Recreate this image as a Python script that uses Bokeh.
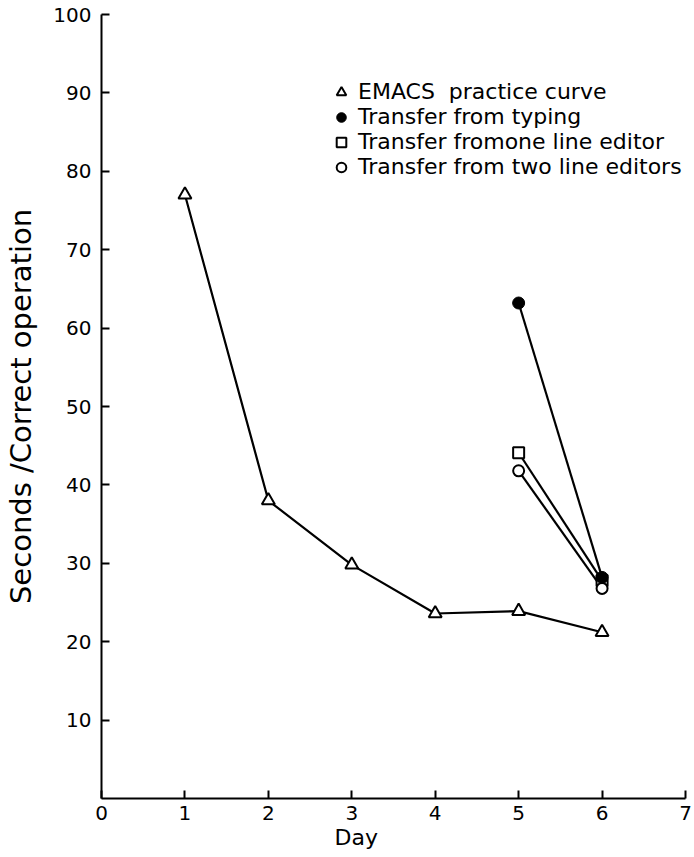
from bokeh.plotting import figure
from bokeh.models import Range1d, FixedTicker, Legend, LegendItem, Title
from bokeh.embed import file_html
from bokeh.resources import INLINE

# ---- data ----
days_emacs = [1, 2, 3, 4, 5, 6]
emacs = [77.0, 38.0, 29.8, 23.6, 23.9, 21.2]
days_transfer = [5, 6]
typing = [63.2, 28.2]
one_editor = [44.1, 27.8]
two_editors = [41.8, 26.8]

x_ticks = [0, 1, 2, 3, 4, 5, 6, 7]
y_ticks = [10, 20, 30, 40, 50, 60, 70, 80, 90, 100]

labels = [
    "EMACS  practice curve",
    "Transfer from typing",
    "Transfer fromone line editor",
    "Transfer from two line editors",
]
x_title = "Day"
y_title = "Seconds /Correct operation"

FONT = "DejaVu Sans"

p = figure(width=694, height=857, x_range=Range1d(0, 7), y_range=Range1d(0, 100),
           output_backend="svg", toolbar_location=None,
           min_border_left=101, min_border_right=9, min_border_top=14, min_border_bottom=59)
p.outline_line_color = None
p.xgrid.visible = False
p.ygrid.visible = False
p.background_fill_color = "white"
p.border_fill_color = "white"

for ax in (p.xaxis[0], p.yaxis[0]):
    ax.axis_line_width = 2
    ax.axis_line_color = "black"
    ax.major_tick_line_width = 2
    ax.major_tick_line_color = "black"
    ax.major_tick_in = 8
    ax.major_tick_out = 0
    ax.minor_tick_line_color = None
    ax.major_label_text_font = FONT
    ax.major_label_text_font_size = "20px"
    ax.major_label_text_color = "black"
    ax.axis_label_text_font = FONT
    ax.axis_label_text_font_style = "normal"
    ax.axis_label_text_color = "black"

p.xaxis.ticker = FixedTicker(ticks=x_ticks)
p.yaxis.ticker = FixedTicker(ticks=y_ticks)
p.xaxis.major_label_standoff = 7
p.yaxis.major_label_standoff = 10
p.yaxis.axis_label = y_title
p.yaxis.axis_label_text_font_size = "29px"
p.yaxis.axis_label_standoff = 12

# x-axis title, placed left of centre as in the reference
p.add_layout(Title(text=x_title, align="left", offset=233, standoff=0,
                   text_font=FONT, text_font_size="22px", text_font_style="normal",
                   text_color="black"), "below")

lw = 2.2
p.line(days_emacs, emacs, line_color="black", line_width=lw)
p.line(days_transfer, one_editor, line_color="black", line_width=lw)
p.line(days_transfer, two_editors, line_color="black", line_width=lw)
p.line(days_transfer, typing, line_color="black", line_width=lw)

r_tri = p.scatter(days_emacs, emacs, marker="triangle", size=13, fill_color="white",
                  line_color="black", line_width=2)
r_sq = p.scatter(days_transfer, one_editor, marker="square", size=11, fill_color="white",
                 line_color="black", line_width=2)
r_oc = p.scatter(days_transfer, two_editors, marker="circle", size=11, fill_color="white",
                 line_color="black", line_width=2)
r_fc = p.scatter(days_transfer, typing, marker="circle", size=12, fill_color="black",
                 line_color="black", line_width=1)

legend = Legend(items=[
    LegendItem(label=labels[0], renderers=[r_tri]),
    LegendItem(label=labels[1], renderers=[r_fc]),
    LegendItem(label=labels[2], renderers=[r_sq]),
    LegendItem(label=labels[3], renderers=[r_oc]),
], location=(228, 619))
legend.border_line_color = None
legend.background_fill_alpha = 0
legend.padding = 0
legend.margin = 0
legend.spacing = 0
legend.glyph_height = 24
legend.glyph_width = 24
legend.label_height = 24
legend.label_standoff = 5
legend.label_text_font = FONT
legend.label_text_font_size = "22px"
legend.label_text_color = "black"
p.add_layout(legend)

open("out.html", "w").write(file_html(p, INLINE))
